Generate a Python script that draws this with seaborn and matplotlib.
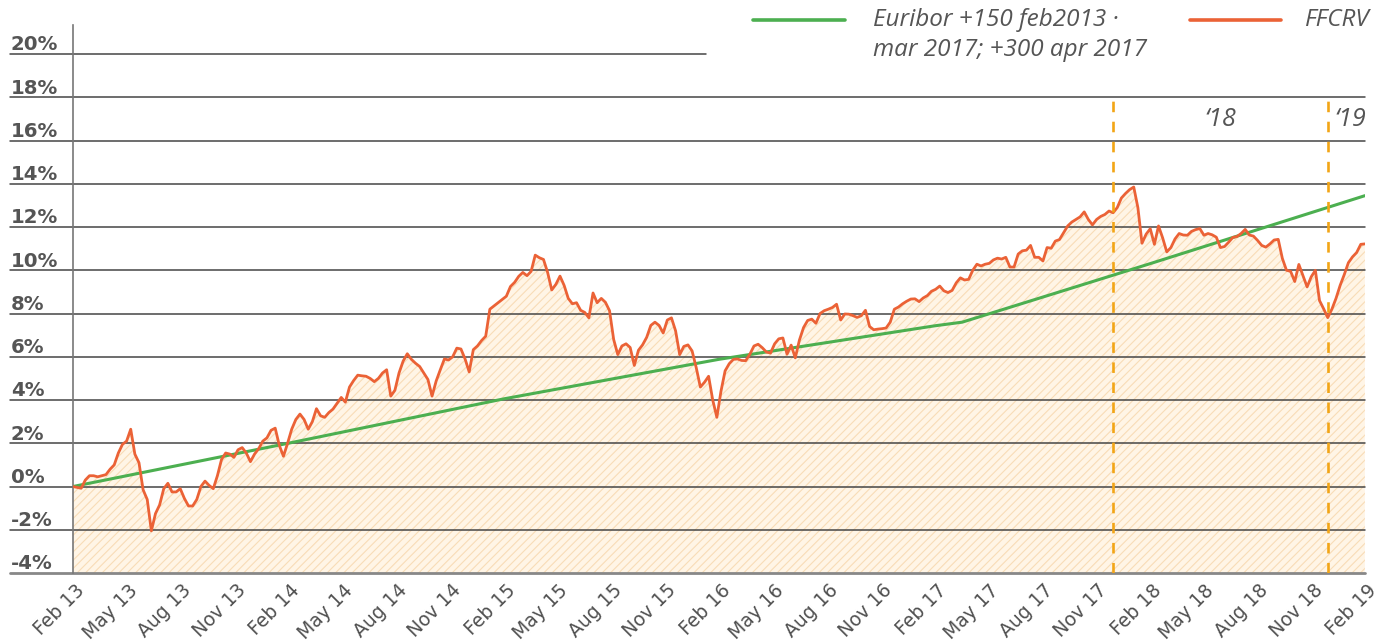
import pandas as pd
import seaborn as sns
import matplotlib.pyplot as plt
from matplotlib.lines import Line2D
from matplotlib.transforms import ScaledTranslation

sns.set_style('white')
plt.rcParams['font.family'] = ['DejaVu Sans']
plt.rcParams['hatch.linewidth'] = 0.8

# FFCRV cumulative return (%), one reading per week starting 1 Feb 2013
ffcrv = [
    0.0, -0.04, -0.08, 0.3, 0.5, 0.5, 0.45, 0.5, 0.55, 0.8,
    1.0, 1.55, 1.95, 2.1, 2.65, 1.5, 1.1, -0.15, -0.6, -2.05,
    -1.25, -0.85, -0.1, 0.15, -0.25, -0.25, -0.1, -0.55, -0.9, -0.9,
    -0.6, 0.0, 0.25, 0.05, -0.1, 0.5, 1.25, 1.55, 1.5, 1.35,
    1.7, 1.8, 1.55, 1.15, 1.5, 1.75, 2.1, 2.25, 2.6, 2.7,
    1.9, 1.4, 2.0, 2.65, 3.1, 3.35, 3.1, 2.65, 3.0, 3.6,
    3.27, 3.2, 3.42, 3.58, 3.85, 4.12, 3.9, 4.6, 4.9, 5.15,
    5.12, 5.1, 5.0, 4.85, 5.0, 5.25, 5.4, 4.18, 4.45, 5.25,
    5.8, 6.14, 5.88, 5.7, 5.55, 5.25, 4.95, 4.18, 4.88, 5.4,
    5.9, 5.85, 6.0, 6.4, 6.36, 5.9, 5.3, 6.33, 6.5, 6.75,
    6.95, 8.2, 8.35, 8.5, 8.65, 8.8, 9.25, 9.44, 9.72, 9.9,
    9.75, 9.95, 10.7, 10.58, 10.5, 9.9, 9.09, 9.35, 9.73, 9.3,
    8.7, 8.45, 8.5, 8.15, 8.05, 7.8, 8.95, 8.5, 8.7, 8.52,
    8.13, 6.8, 6.1, 6.5, 6.6, 6.43, 5.6, 6.3, 6.55, 6.9,
    7.45, 7.6, 7.45, 7.1, 7.7, 7.8, 7.2, 6.1, 6.48, 6.55,
    6.27, 5.5, 4.6, 4.82, 5.1, 4.0, 3.2, 4.41, 5.35, 5.68,
    5.88, 5.9, 5.83, 5.82, 6.12, 6.5, 6.58, 6.42, 6.22, 6.17,
    6.6, 6.83, 6.87, 6.12, 6.54, 5.95, 6.77, 7.35, 7.68, 7.74,
    7.55, 8.0, 8.13, 8.2, 8.28, 8.43, 7.7, 7.98, 7.97, 7.9,
    7.82, 7.9, 8.15, 7.4, 7.25, 7.28, 7.3, 7.33, 7.6, 8.2,
    8.3, 8.45, 8.57, 8.67, 8.68, 8.55, 8.72, 8.83, 9.03, 9.12,
    9.27, 9.05, 8.97, 9.07, 9.42, 9.65, 9.55, 9.58, 10.0, 10.28,
    10.2, 10.28, 10.32, 10.48, 10.56, 10.52, 10.6, 10.15, 10.15, 10.75,
    10.9, 10.93, 11.15, 10.6, 10.6, 10.43, 11.05, 11.02, 11.35, 11.42,
    11.74, 12.05, 12.23, 12.35, 12.47, 12.7, 12.35, 12.1, 12.35, 12.49,
    12.58, 12.74, 12.66, 12.9, 13.34, 13.55, 13.73, 13.85, 12.9, 11.25,
    11.67, 11.92, 11.2, 12.05, 11.5, 10.85, 11.05, 11.45, 11.7, 11.63,
    11.62, 11.8, 11.88, 11.93, 11.62, 11.7, 11.64, 11.53, 11.05, 11.1,
    11.3, 11.52, 11.56, 11.7, 11.89, 11.63, 11.58, 11.38, 11.15, 11.07,
    11.22, 11.4, 11.43, 10.55, 10.0, 9.95, 9.48, 10.27, 9.75, 9.23,
    9.7, 10.0, 8.6, 8.22, 7.81, 8.2, 8.7, 9.3, 9.8, 10.35,
    10.62, 10.82, 11.2, 11.22,
]

# Euribor benchmark (%)
euribor_dates = ['2013-02-01', '2014-02-01', '2015-02-01', '2016-02-01',
                 '2017-02-01', '2017-03-20', '2018-02-01', '2019-02-01']
euribor_vals = [0.0, 2.0, 4.05, 5.88, 7.43, 7.6, 10.3, 13.45]

year_marks = ['2017-11-30', '2018-11-30']
year_labels = ['\u201818', '\u201819']
y_ticks = list(range(-4, 21, 2))

GREEN = '#4CAF50'
ORANGE = '#EB6236'
GOLD = '#F2A516'
GREY = '#555555'

start, end = pd.Timestamp('2013-02-01'), pd.Timestamp('2019-02-01')
df_f = pd.DataFrame({'date': pd.date_range(start, periods=len(ffcrv), freq='7D'),
                     'val': ffcrv})
df_e = pd.DataFrame({'date': pd.to_datetime(euribor_dates), 'val': euribor_vals})

fig = plt.figure(figsize=(13.84, 6.44), dpi=100)
ax = fig.add_axes([0.0527, 0.1102, 0.9335, 0.8509])

ax.fill_between(df_f['date'], df_f['val'], -4, facecolor='#FFF5E6',
                edgecolor='#F8DCB6', hatch='////', linewidth=0, zorder=1)
sns.lineplot(data=df_e, x='date', y='val', color=GREEN, lw=2.2,
             estimator=None, ax=ax, zorder=3)
sns.lineplot(data=df_f, x='date', y='val', color=ORANGE, lw=2.0,
             estimator=None, ax=ax, zorder=4)
ax.vlines(pd.to_datetime(year_marks), -4, 18, colors=GOLD, lw=1.9,
          linestyles=(0, (4, 3.6)), zorder=5)

ax.set_xlim(start, end)
ax.set_ylim(-4, 21.34)
ax.set_xlabel('')
ax.set_ylabel('')

# horizontal grid, drawn past the axis under the labels
ytr = ax.get_yaxis_transform()
for v in y_ticks:
    x1 = 0.49 if v == 20 else 1.0
    if v == -4:
        ax.plot([-0.0488, x1], [v, v], color='#888888', lw=2, transform=ytr,
                clip_on=False, zorder=2)
    else:
        ax.plot([-0.0488, x1], [v, v], color='#454545', lw=1.1, transform=ytr,
                clip_on=False, zorder=2)
    ax.text(-0.0482, v + 0.17, f'{v}%', transform=ytr, ha='left', va='baseline',
            fontsize=14.2, fontweight='bold', color=GREY)
ax.set_yticks([])

qdates = pd.date_range(start, end, freq='3MS')
ax.set_xticks(qdates)
ax.set_xticklabels([d.strftime('%b %y') for d in qdates], rotation=45,
                   ha='right', va='center', rotation_mode='anchor',
                   fontsize=13.5, color='#505050')
ax.tick_params(axis='x', length=0, pad=9)
shift = ScaledTranslation(9 / 100, -2 / 100, fig.dpi_scale_trans)
for lab in ax.get_xticklabels():
    lab.set_transform(lab.get_transform() + shift)

for s in ['top', 'right', 'bottom']:
    ax.spines[s].set_visible(False)
ax.spines['left'].set_color('#777777')
ax.spines['left'].set_linewidth(1.2)

# year markers
ax.text(pd.Timestamp('2018-06-01'), 16.95, year_labels[0], ha='center',
        va='center', fontsize=18, style='italic', color=GREY, family='Open Sans')
ax.text(pd.Timestamp('2018-12-12'), 16.95, year_labels[1], ha='left',
        va='center', fontsize=18, style='italic', color=GREY, family='Open Sans')

# legend
fig.add_artist(Line2D([0.544, 0.6106], [0.969, 0.969], color=GREEN, lw=2.6))
fig.text(0.6308, 0.969, 'Euribor +150 feb2013 \u00b7', ha='left', va='center',
         fontsize=17.5, style='italic', color=GREY, family='Open Sans')
fig.text(0.6308, 0.922, 'mar 2017; +300 apr 2017', ha='left', va='center',
         fontsize=17.5, style='italic', color=GREY, family='Open Sans')
fig.add_artist(Line2D([0.8598, 0.9256], [0.969, 0.969], color=ORANGE, lw=2.6))
fig.text(0.9430, 0.969, 'FFCRV', ha='left', va='center',
         fontsize=17.5, style='italic', color=GREY, family='Open Sans')

fig.savefig('out.png', dpi=100)
